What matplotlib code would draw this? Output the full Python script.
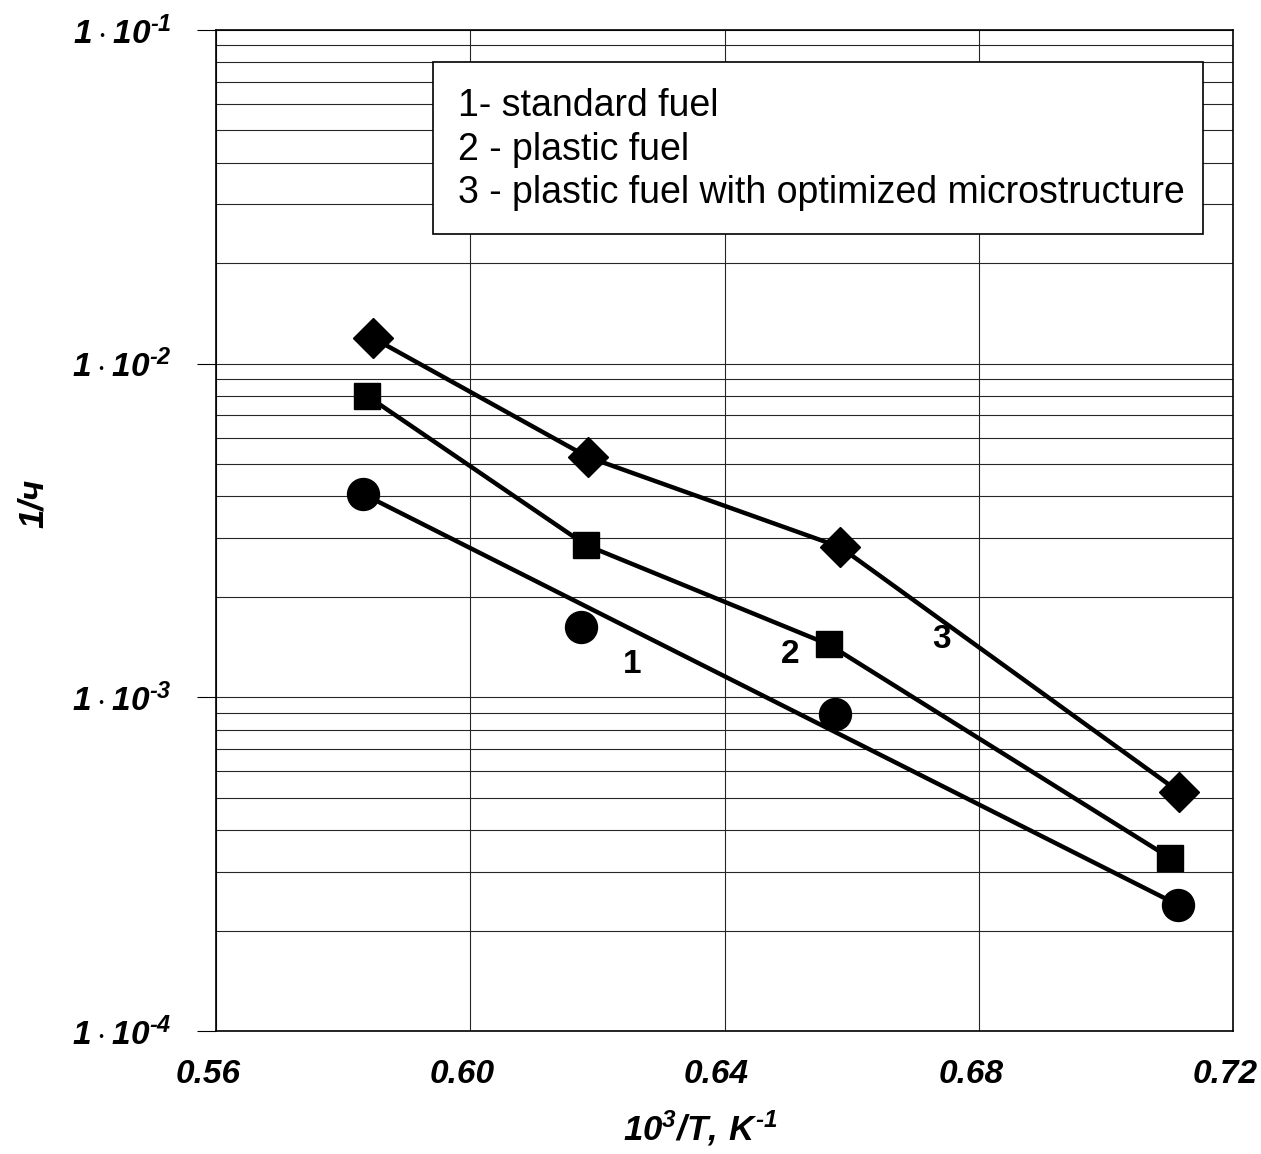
import matplotlib
matplotlib.use("Agg")
import matplotlib.pyplot as plt
import matplotlib.transforms as mtransforms
from matplotlib.ticker import FixedLocator, FuncFormatter, LogLocator, NullFormatter
from matplotlib.patches import Rectangle

plt.rcParams['font.family'] = ['Liberation Sans', 'DejaVu Sans']
plt.rcParams['mathtext.fontset'] = 'custom'
plt.rcParams['mathtext.rm'] = 'Liberation Sans:italic:bold'
plt.rcParams['mathtext.it'] = 'Liberation Sans:italic:bold'
plt.rcParams['mathtext.bf'] = 'Liberation Sans:italic:bold'

# data
x1 = [0.5831, 0.6174, 0.6574, 0.7113]     # 1 - standard fuel (circles)
y1 = [0.00407, 0.00163, 0.00089, 0.000239]
x2 = [0.5838, 0.6182, 0.6564, 0.7101]     # 2 - plastic fuel (squares)
y2 = [0.0080, 0.00286, 0.00144, 0.000330]
x3 = [0.5847, 0.6185, 0.6582, 0.7115]     # 3 - optimized microstructure (diamonds)
y3 = [0.01194, 0.00525, 0.00282, 0.000521]

# series 1 is drawn as a straight fitted line
fit1_x = [0.5831, 0.7113]
fit1_y = [0.00407, 0.000239]

legend_lines = ["1- standard fuel",
                "2 - plastic fuel",
                "3 - plastic fuel with optimized microstructure"]
curve_tags = ["1", "2", "3"]
tag_x = [0.6254, 0.6503, 0.6741]
tag_y = [0.00125, 0.00134, 0.00149]

xticks = [0.56, 0.60, 0.64, 0.68, 0.72]
xticklabels = ["0.56", "0.60", "0.64", "0.68", "0.72"]
yticks = [1e-4, 1e-3, 1e-2, 1e-1]
yexp = [-4, -3, -2, -1]

fig = plt.figure(figsize=(12.61, 11.54), dpi=100)
ax = fig.add_axes([0.1713, 0.1066, 0.8065, 0.8674])

ax.set_yscale('log')
ax.set_xlim(0.56, 0.72)
ax.set_ylim(1e-4, 1e-1)

# grid
ax.yaxis.set_major_locator(FixedLocator(yticks))
ax.yaxis.set_minor_locator(LogLocator(base=10, subs=range(2, 10)))
ax.yaxis.set_minor_formatter(NullFormatter())
ax.yaxis.set_major_formatter(FuncFormatter(
    lambda v, p: r'$1\cdot10^{\text{-}%d}$' % -yexp[yticks.index(v)] if v in yticks else ''))
ax.set_xticks(xticks)
ax.set_xticklabels(xticklabels)
ax.grid(True, which='both', axis='y', color='0.15', lw=0.8)
ax.grid(True, which='major', axis='x', color='0.15', lw=0.8)
ax.set_axisbelow(True)

ax.tick_params(axis='x', length=0, pad=20)
ax.tick_params(axis='y', which='major', length=14, width=0.8, pad=18, labelsize=24, direction='out')
ax.tick_params(axis='y', which='minor', length=0)
for s in ax.spines.values():
    s.set_linewidth(1.2)

# x tick labels sit a bit left of their grid lines in the original
shift = mtransforms.ScaledTranslation(-8 / 100, 0, fig.dpi_scale_trans)
for t in ax.xaxis.get_majorticklabels():
    t.set_fontsize(24)
    t.set_fontweight('bold')
    t.set_fontstyle('italic')
    t.set_transform(t.get_transform() + shift)

# curves
ax.plot(fit1_x, fit1_y, color='black', lw=3.2, zorder=3)
ax.plot(x1, y1, 'o', color='black', ms=23, zorder=4)
ax.plot(x2, y2, '-s', color='black', lw=3.2, ms=19, zorder=4)
ax.plot(x3, y3, '-D', color='black', lw=3.2, ms=20, zorder=4)

for tg, tx, ty in zip(curve_tags, tag_x, tag_y):
    ax.text(tx, ty, tg, fontsize=24, fontweight='bold', ha='center', va='center')

# legend box
ax.add_patch(Rectangle((0.2134, 0.796), 0.7571, 0.172, transform=ax.transAxes,
                       facecolor='white', edgecolor='black', lw=1.2, zorder=5))
for i, line in enumerate(legend_lines):
    ax.text(0.238, 0.924 - i * 0.0435, line, transform=ax.transAxes,
            fontsize=27, ha='left', va='center', zorder=6)

ax.set_xlabel(r'$10^3/T,\,K^{\text{-}1}$', fontsize=25)
ax.xaxis.set_label_coords(0.476, -0.077)
fig.text(33 / 1261, 1 - 503 / 1154, '1/ч', fontsize=25, fontweight='bold',
         fontstyle='italic', rotation=90, ha='center', va='center')

fig.savefig('out.png', dpi=100)
